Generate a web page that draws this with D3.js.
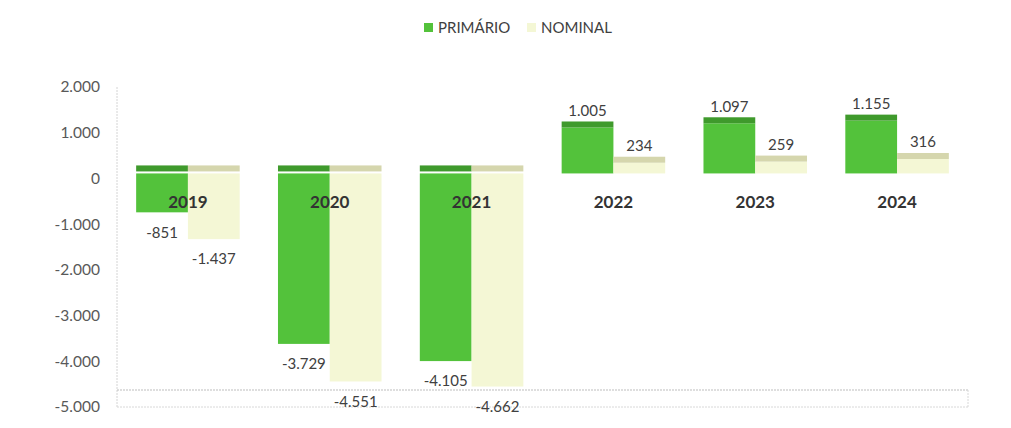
<!DOCTYPE html>
<html>
<head>
<meta charset="utf-8">
<script src="https://cdn.jsdelivr.net/npm/d3@7"></script>
<style>
  body { margin: 0; background: #fff; }
  text { font-family: Lato, "Open Sans", sans-serif; }
</style>
</head>
<body>
<svg id="canvas" width="1011" height="428"></svg>
<script>
// data
let years = ['2019', '2020', '2021', '2022', '2023', '2024']
let primario = [-851, -3729, -4105, 1005, 1097, 1155]
let nominal = [-1437, -4551, -4662, 234, 259, 316]
let seriesNames = ['PRIMÁRIO', 'NOMINAL']
let yTicks = [2000, 1000, 0, -1000, -2000, -3000, -4000, -5000]

let colors = {
  'PRIMÁRIO': { front: '#53c23b', top: '#3f9a2c' },
  'NOMINAL': { front: '#f4f7d5', top: '#d5d6ad' }
}

let locale = d3.formatLocale({ decimal: ',', thousands: '.', grouping: [3], currency: ['', ''], minus: '-' })
let fmt = locale.format(',d')

let canvas = d3.select('#canvas')

let left = 117, right = 968
let depth = 5 // 3d shift of the bars

let x = d3.scaleBand().domain(years).range([left, right]).padding(0)
let xs = d3.scaleBand().domain(seriesNames)
  .range([x.bandwidth() * 0.135, x.bandwidth() * 0.865])
let y = d3.scaleLinear().domain([-5000, 2000]).range([407, 87])

// axis line + floor
canvas.append('line')
  .attr('x1', left).attr('x2', left).attr('y1', y(2000)).attr('y2', y(-5000))
  .attr('stroke', '#d4d4d4').attr('stroke-dasharray', '2,1')
canvas.append('line')
  .attr('x1', left).attr('x2', right).attr('y1', y(-5000) - 17).attr('y2', y(-5000) - 17)
  .attr('stroke', '#bdbdbd').attr('stroke-dasharray', '2,1')
canvas.append('line')
  .attr('x1', left).attr('x2', right).attr('y1', y(-5000)).attr('y2', y(-5000))
  .attr('stroke', '#d8d8d8').attr('stroke-dasharray', '2,1')
canvas.append('line')
  .attr('x1', right).attr('x2', right).attr('y1', y(-5000) - 17).attr('y2', y(-5000))
  .attr('stroke', '#d8d8d8').attr('stroke-dasharray', '2,1')

// y tick labels
let yAxis = d3.axisLeft(y).tickValues(yTicks).tickFormat(fmt).tickSize(0).tickPadding(0)
let gy = canvas.append('g').attr('transform', 'translate(100,0)').call(yAxis)
gy.select('.domain').remove()
gy.selectAll('text')
  .attr('fill', '#595959').style('font-size', '15.5px')
  .style('font-family', 'Lato, "Open Sans", sans-serif')

// bars
let rows = []
years.forEach((yr, i) => {
  rows.push({ year: yr, series: 'PRIMÁRIO', value: primario[i] })
  rows.push({ year: yr, series: 'NOMINAL', value: nominal[i] })
})

let blocks = canvas.selectAll('g.bar')
  .data(rows)
  .enter()
  .append('g')
  .attr('class', 'bar')
  .attr('transform', (d) => 'translate(' + (x(d.year) + xs(d.series)) + ',0)')

blocks.append('rect')
  .attr('x', 0)
  .attr('width', xs.bandwidth())
  .attr('y', (d) => Math.min(y(d.value), y(0)) - depth)
  .attr('height', (d) => Math.abs(y(d.value) - y(0)))
  .attr('fill', (d) => colors[d.series].front)

// top face of the 3d bar
blocks.append('rect')
  .attr('x', 0)
  .attr('width', xs.bandwidth())
  .attr('y', (d) => d.value > 0 ? y(d.value) - depth - 6 : y(0) - depth - 8)
  .attr('height', 6)
  .attr('fill', (d) => colors[d.series].top)

// value labels
blocks.append('text')
  .text((d) => fmt(d.value))
  .attr('x', xs.bandwidth() / 2)
  .attr('y', (d) => d.value > 0 ? y(d.value) - depth - 17 : y(d.value) - depth + 20)
  .attr('dy', '0.35em')
  .attr('text-anchor', 'middle')
  .attr('fill', '#404040')
  .style('font-size', '15px')

// year labels
canvas.selectAll('text.year')
  .data(years)
  .enter()
  .append('text')
  .attr('class', 'year')
  .text((d) => d)
  .attr('x', (d) => x(d) + x.bandwidth() / 2)
  .attr('y', 202)
  .attr('dy', '0.35em')
  .attr('text-anchor', 'middle')
  .attr('fill', '#333')
  .style('font-size', '17px')
  .style('font-weight', 'bold')

// legend
let legend = canvas.append('g').attr('transform', 'translate(424,28)')
let lx = [0, 103]
seriesNames.forEach((s, i) => {
  legend.append('rect').attr('x', lx[i]).attr('y', -5).attr('width', 9).attr('height', 9)
    .attr('fill', colors[s].front)
  legend.append('text').text(s).attr('x', lx[i] + 14).attr('y', 0).attr('dy', '0.35em')
    .attr('fill', '#404040').style('font-size', '15px')
})
</script>
</body>
</html>
